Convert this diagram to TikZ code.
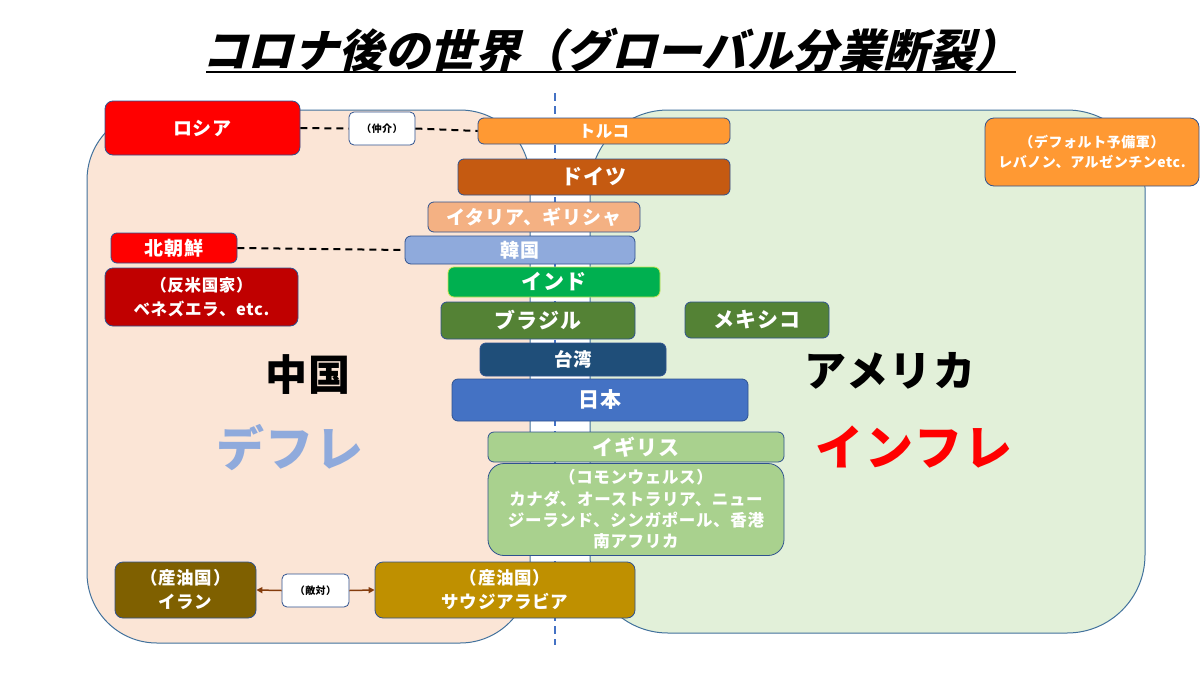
\documentclass[tikz,border=0pt]{standalone}
\usepackage{fontspec}
\setmainfont{Noto Sans CJK JP}[LetterSpace=4]
\newfontfamily\titlefont{Noto Sans CJK JP}[FakeSlant=0.25,LetterSpace=1]
\usetikzlibrary{arrows.meta}
\definecolor{bordc}{HTML}{2F528F}
\definecolor{regbord}{HTML}{41719C}
\definecolor{pinkbg}{HTML}{FBE5D6}
\definecolor{greenbg}{HTML}{E2F0D9}
\definecolor{cRed}{HTML}{FF0000}
\definecolor{cDarkRed}{HTML}{C00000}
\definecolor{cOrange}{HTML}{FF9933}
\definecolor{cBrown}{HTML}{C55A11}
\definecolor{cSalmon}{HTML}{F4B183}
\definecolor{cLBlue}{HTML}{8FAADC}
\definecolor{cGreen}{HTML}{00B050}
\definecolor{cIndBord}{HTML}{C8E650}
\definecolor{cOlive}{HTML}{548235}
\definecolor{cNavy}{HTML}{1F4E79}
\definecolor{cBlue}{HTML}{4472C4}
\definecolor{cLGreen}{HTML}{A9D18E}
\definecolor{cIran}{HTML}{7F6000}
\definecolor{cSaudi}{HTML}{BF9000}
\definecolor{cArrow}{HTML}{843C0C}
\definecolor{cDeflation}{HTML}{8FAADC}
\tikzset{
  region/.style={draw=regbord, line width=1pt, inner sep=0pt},
  box/.style={draw=bordc, line width=0.8pt, rounded corners=6pt, text=white, align=center, inner sep=0pt},
  whitebox/.style={draw=bordc, line width=0.8pt, rounded corners=5pt, fill=white, text=black, align=center, inner sep=0pt, font=\bfseries\fontsize{10}{12}\selectfont},
  conn/.style={draw=black, line width=2pt, dash pattern=on 7pt off 5pt},
  arr/.style={draw=cArrow, line width=1.5pt, -{Triangle[length=6pt,width=6pt]}},
  cdash/.style={draw=cBlue, line width=1.4pt, dash pattern=on 8pt off 5pt},
  biglabel/.style={inner sep=0pt}
}
\begin{document}
\begin{tikzpicture}[x=1pt,y=-1pt]
\useasboundingbox (0,0) rectangle (1200,675);
\fill[white] (0,0) rectangle (1200,675);
% title
\node[font=\titlefont\bfseries\fontsize{45}{45}\selectfont, inner sep=0pt] (title) at (611,50) {コロナ後の世界（グローバル分業断裂）};
\coordinate (ulA) at (206,72);
\coordinate (ulB) at (1016,72);
\draw[line width=2.5pt] (ulA) -- (ulB);
% regions
\node[region, fill=pinkbg, rounded corners=70pt, minimum width=443pt, minimum height=533pt] (china) at (308.5,376.5) {};
\node[region, fill=greenbg, rounded corners=78pt, minimum width=555pt, minimum height=523pt] (usa) at (867.5,371.5) {};
% center dashed line
\coordinate (ctop) at (555,93);
\coordinate (cbot) at (555,645);
\draw[cdash] (ctop) -- (cbot);
% big labels
\node[biglabel, font=\bfseries\fontsize{42}{42}\selectfont] (chn) at (308,375) {中国};
\node[biglabel, text=cDeflation, font=\bfseries\fontsize{48}{48}\selectfont] (defl) at (290,448) {デフレ};
\node[biglabel, font=\bfseries\fontsize{42}{42}\selectfont] (ame) at (890,371) {アメリカ};
\node[biglabel, text=cRed, font=\bfseries\fontsize{48}{48}\selectfont] (infl) at (914,447) {インフレ};
% boxes
\node[box, fill=cRed, rounded corners=8pt, minimum width=195pt, minimum height=54pt, font=\bfseries\fontsize{19}{22}\selectfont] (russia) at (202.5,128) {ロシア};
\node[whitebox, minimum width=66pt, minimum height=33pt] (mediate) at (382,128.5) {（仲介）};
\node[box, fill=cOrange, minimum width=252pt, minimum height=26pt, font=\bfseries\fontsize{16.5}{18}\selectfont] (turkey) at (604,131) {トルコ};
\node[box, fill=cBrown, minimum width=272pt, minimum height=36pt, font=\bfseries\fontsize{21}{24}\selectfont] (germany) at (594,177) {ドイツ};
\node[box, fill=cSalmon, minimum width=212pt, minimum height=30pt, font=\bfseries\fontsize{19}{22}\selectfont] (italy) at (534,217) {イタリア、ギリシャ};
\node[box, fill=cLBlue, minimum width=230pt, minimum height=28pt, font=\bfseries\fontsize{19}{22}\selectfont] (korea) at (520,250) {韓国};
\node[box, fill=cRed, minimum width=126pt, minimum height=30pt, font=\bfseries\fontsize{19}{22}\selectfont] (nkorea) at (174,248) {北朝鮮};
\node[box, fill=cDarkRed, rounded corners=8pt, minimum width=193pt, minimum height=58pt, font=\bfseries\fontsize{16.5}{24}\selectfont] (antius) at (201.5,297) {（反米国家）\\ベネズエラ、etc.};
\node[box, draw=cIndBord, fill=cGreen, minimum width=212pt, minimum height=30pt, font=\bfseries\fontsize{21}{24}\selectfont] (india) at (554,282) {インド};
\node[box, fill=cOlive, minimum width=194pt, minimum height=37pt, font=\bfseries\fontsize{21}{24}\selectfont] (brazil) at (538,320.5) {ブラジル};
\node[box, fill=cOlive, minimum width=144pt, minimum height=36pt, font=\bfseries\fontsize{21}{24}\selectfont] (mexico) at (757,320) {メキシコ};
\node[box, fill=cNavy, minimum width=186pt, minimum height=33pt, font=\bfseries\fontsize{18.5}{22}\selectfont] (taiwan) at (573,359.5) {台湾};
\node[box, fill=cBlue, minimum width=296pt, minimum height=42pt, font=\bfseries\fontsize{21}{24}\selectfont] (japan) at (600,400) {日本};
\node[box, fill=cLGreen, minimum width=296pt, minimum height=30pt, font=\bfseries\fontsize{21}{24}\selectfont] (uk) at (636,447) {イギリス};
\node[box, fill=cLGreen, rounded corners=16pt, minimum width=296pt, minimum height=92pt, font=\bfseries\fontsize{16.5}{21.3}\selectfont] (commonw) at (636,509.5) {（コモンウェルス）\\カナダ、オーストラリア、ニュー\\ジーランド、シンガポール、香港\\南アフリカ};
\node[box, fill=cIran, rounded corners=8pt, minimum width=141pt, minimum height=56pt, font=\bfseries\fontsize{17.5}{24}\selectfont] (iran) at (185.5,590) {（産油国）\\イラン};
\node[whitebox, minimum width=67pt, minimum height=33pt] (enemy) at (315.5,590.5) {（敵対）};
\node[box, fill=cSaudi, rounded corners=8pt, minimum width=260pt, minimum height=56pt, font=\bfseries\fontsize{17.5}{24}\selectfont] (saudi) at (505,590) {（産油国）\\サウジアラビア};
\node[box, fill=cOrange, rounded corners=9pt, minimum width=214pt, minimum height=68pt, font=\bfseries\fontsize{14}{20}\selectfont] (default) at (1092,152) {（デフォルト予備軍）\\レバノン、アルゼンチンetc.};
% connectors
\draw[conn] (russia.east) -- (mediate.west);
\draw[conn] (mediate.east) -- (turkey.west);
\draw[conn] (nkorea.east) -- (korea.west);
\draw[arr] (enemy.west) -- (iran.east);
\draw[arr] (enemy.east) -- (saudi.west);
\end{tikzpicture}
\end{document}
